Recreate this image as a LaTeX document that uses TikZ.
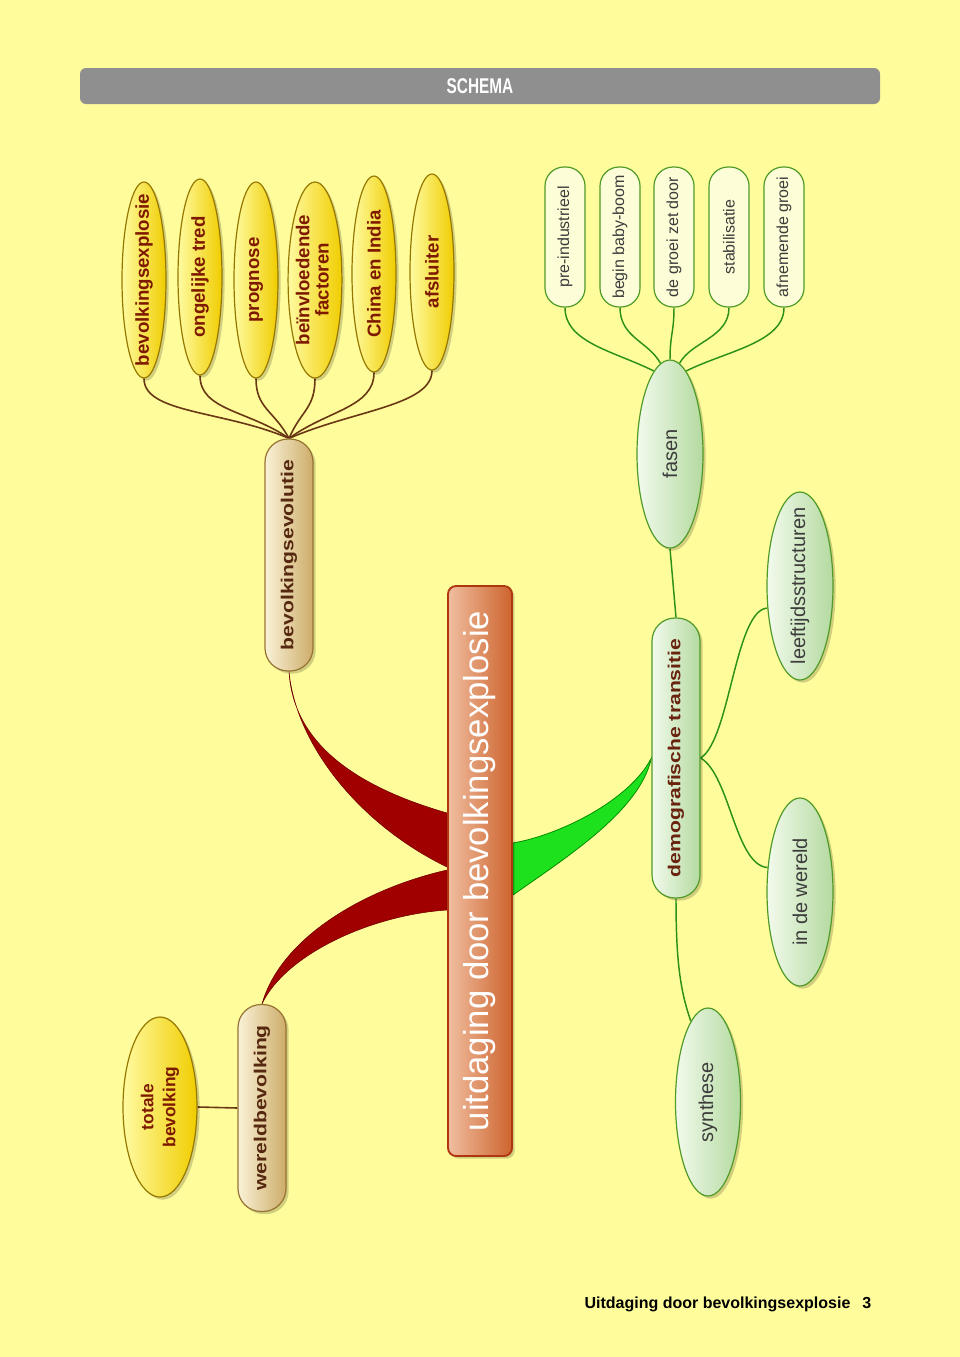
\documentclass[tikz,border=0pt]{standalone}
\usepackage{graphicx}
\usepackage{fontspec}
\setmainfont{Liberation Sans}
\newfontfamily\widefont[FakeStretch=1.22]{Liberation Sans}
\newfontfamily\narrowfont[FakeStretch=0.72]{Liberation Sans}
\usetikzlibrary{shapes.geometric,shadows,calc,backgrounds}

\definecolor{bgyellow}{RGB}{255,253,155}
\definecolor{titlegray}{RGB}{143,143,143}
\definecolor{yfill}{RGB}{255,236,0}
\definecolor{ylight}{RGB}{255,250,160}
\definecolor{ydark}{RGB}{240,205,0}
\definecolor{yline}{RGB}{150,120,0}
\definecolor{ytext}{RGB}{125,25,0}
\definecolor{tanlight}{RGB}{250,242,215}
\definecolor{tandark}{RGB}{205,172,105}
\definecolor{tanline}{RGB}{150,115,50}
\definecolor{tantext}{RGB}{85,40,15}
\definecolor{glight}{RGB}{242,250,236}
\definecolor{gdark}{RGB}{180,218,160}
\definecolor{gline}{RGB}{80,155,40}
\definecolor{gtext}{RGB}{60,60,60}
\definecolor{demotext}{RGB}{105,35,15}
\definecolor{phasefill}{RGB}{253,253,215}
\definecolor{corelight}{RGB}{240,190,160}
\definecolor{coredark}{RGB}{205,100,45}
\definecolor{coreline}{RGB}{175,55,15}
\definecolor{redbranch}{RGB}{160,0,0}
\definecolor{reddark}{RGB}{110,0,0}
\definecolor{greenbranch}{RGB}{30,225,30}
\definecolor{greendark}{RGB}{0,140,0}
\definecolor{brownline}{RGB}{105,55,20}
\definecolor{gconn}{RGB}{45,145,25}

% 1 px of the reference = 0.75pt
\newcommand{\pxu}{*0.75pt}
\newcommand{\vlabel}[1]{\rotatebox{90}{\makebox[0pt]{#1}}}
\newcommand{\twolines}[2]{\begin{tabular}{@{}c@{}}#1\\#2\end{tabular}}

\begin{document}
\begin{tikzpicture}[x=0.75pt, y=-0.75pt,
    shadowed/.style={drop shadow={shadow xshift=2pt, shadow yshift=-2pt,
                     opacity=0.18, fill=black}},
    topic/.style={ellipse, shadowed, draw=yline, line width=0.9pt, inner sep=0pt,
                  left color=ylight, middle color=yfill, right color=ydark,
                  minimum width=44\pxu, minimum height=196\pxu, text=ytext,
                  font=\fontsize{14}{16.8}\selectfont\bfseries},
    tanpill/.style={rectangle, shadowed, rounded corners=23\pxu, draw=tanline,
                    line width=0.9pt, inner sep=0pt, left color=tanlight,
                    right color=tandark, minimum width=48\pxu, text=tantext,
                    font=\widefont\fontsize{13}{15}\selectfont\bfseries},
    greenpill/.style={tanpill, draw=gline, left color=glight, right color=gdark,
                      text=demotext},
    subtopic/.style={ellipse, shadowed, draw=gline, line width=0.9pt, inner sep=0pt,
                     left color=glight, right color=gdark,
                     minimum width=66\pxu, minimum height=188\pxu, text=gtext,
                     font=\fontsize{15}{18}\selectfont},
    phase/.style={rectangle, rounded corners=19\pxu, draw=gline, line width=0.9pt,
                  fill=phasefill, inner sep=0pt, minimum width=40\pxu,
                  minimum height=140\pxu, text=gtext,
                  font=\fontsize{12}{14.4}\selectfont},
    brownconn/.style={draw=brownline, line width=1.2pt},
    greenconn/.style={draw=gconn, line width=1.1pt},
  ]
    \useasboundingbox (0,0) rectangle (960,1357);

    % Title and footer -------------------------------------------------------
    \node[rectangle, rounded corners=6\pxu, fill=titlegray, minimum width=800\pxu,
          minimum height=36\pxu, text=white,
          font=\narrowfont\fontsize{16}{19}\selectfont\bfseries]
          (title) at (480,86) {SCHEMA};
    \node[anchor=base east, font=\fontsize{12}{14}\selectfont\bfseries]
          (footer) at (876,1308) {Uitdaging door bevolkingsexplosie\hspace{9pt}3};

    % Central topic ----------------------------------------------------------
    \node[rectangle, rounded corners=8\pxu, shadowed, draw=coreline, line width=1.4pt,
          left color=corelight, right color=coredark, inner sep=0pt,
          minimum width=64\pxu, minimum height=570\pxu, text=white,
          font=\fontsize{26}{30}\selectfont]
          (core) at (480,871) {\vlabel{uitdaging door bevolkingsexplosie}};

    % Left branch: bevolkingsevolutie ----------------------------------------
    \node[tanpill, minimum height=232\pxu] (evol)   at (289,555) {\vlabel{bevolkingsevolutie}};
    \node[topic] (boom)    at (144,280) {\vlabel{bevolkingsexplosie}};
    \node[topic] (tred)    at (200,277) {\vlabel{ongelijke tred}};
    \node[topic] (prog)    at (256,280) {\vlabel{prognose}};
    \node[topic] (factors) at (315,280)
          {\def\arraystretch{0.82}\vlabel{\twolines{beïnvloedende}{factoren}}};
    \node[topic] (china)   at (374,274) {\vlabel{China en India}};
    \node[topic] (closer)  at (432,272) {\vlabel{afsluiter}};

    % Left branch: wereldbevolking -------------------------------------------
    \node[tanpill, minimum height=207\pxu] (world)  at (262,1108) {\vlabel{wereldbevolking}};
    \node[topic, minimum width=74\pxu, minimum height=180\pxu,
          font=\fontsize{13}{15.6}\selectfont\bfseries]
          (total) at (160,1107) {\def\arraystretch{1.05}\vlabel{\twolines{totale}{bevolking}}};

    % Right branch: demografische transitie ----------------------------------
    \node[greenpill, minimum height=280\pxu] (demo) at (676,758) {\vlabel{demografische transitie}};
    \node[subtopic] (phases)  at (670,454)  {\vlabel{fasen}};
    \node[subtopic] (ages)    at (800,586)  {\vlabel{leeftijdsstructuren}};
    \node[subtopic] (inworld) at (800,892)  {\vlabel{in de wereld}};
    \node[subtopic, minimum width=65\pxu] (synth) at (708,1102) {\vlabel{synthese}};

    \node[phase] (pre)    at (565,237) {\vlabel{pre-industrieel}};
    \node[phase] (baby)   at (620,237) {\vlabel{begin baby-boom}};
    \node[phase] (growth) at (674,237) {\vlabel{de groei zet door}};
    \node[phase] (stable) at (729,237) {\vlabel{stabilisatie}};
    \node[phase] (fall)   at (784,237) {\vlabel{afnemende groei}};

    % Connectors (behind the nodes) ------------------------------------------
    \begin{scope}[on background layer]
      \fill[bgyellow] (0,0) rectangle (960,1357);

      % main branches
      \filldraw[fill=redbranch, draw=reddark, line width=0.4pt]
        (evol.south) .. controls (293,740) and (350,785) .. ($(core.west)+(0,-58)$)
        -- ($(core.west)+(0,-4)$) .. controls (360,825) and (296,745) .. (evol.south) -- cycle;
      \filldraw[fill=redbranch, draw=reddark, line width=0.4pt]
        ($(core.west)+(0,-1)$) .. controls (360,890) and (280,940) .. (world.north)
        .. controls (285,955) and (370,915) .. ($(core.west)+(0,39)$) -- cycle;
      \filldraw[fill=greenbranch, draw=greendark, line width=0.6pt]
        ($(core.east)+(0,-28)$) .. controls (560,835) and (630,800) .. (demo.west)
        .. controls (640,810) and (570,855) .. ($(core.east)+(0,24)$) -- cycle;

      % bevolkingsevolutie
      \draw[brownconn] (boom.south)    .. controls +(0,35) and +(-65,-28) .. (evol.north);
      \draw[brownconn] (tred.south)    .. controls +(0,35) and +(-40,-28) .. (evol.north);
      \draw[brownconn] (prog.south)    .. controls +(0,30) and +(-15,-28) .. (evol.north);
      \draw[brownconn] (factors.south) .. controls +(0,30) and +(12,-28)  .. (evol.north);
      \draw[brownconn] (china.south)   .. controls +(0,35) and +(38,-28)  .. (evol.north);
      \draw[brownconn] (closer.south)  .. controls +(0,35) and +(64,-28)  .. (evol.north);

      % wereldbevolking
      \draw[brownconn] (total.east) -- (world.west);

      % demografische transitie
      \draw[greenconn] (phases.south) -- (demo.north);
      \draw[greenconn] (pre.south)    .. controls +(0,35) and +(-40,-20) .. (phases.101);
      \draw[greenconn] (baby.south)   .. controls +(0,30) and +(-12,-22) .. (phases.96);
      \draw[greenconn] (growth.south) .. controls +(0,25) and +(0,-25)   .. (phases.north);
      \draw[greenconn] (stable.south) .. controls +(0,30) and +(12,-22)  .. (phases.84);
      \draw[greenconn] (fall.south)   .. controls +(0,35) and +(40,-20)  .. (phases.79);
      \draw[greenconn] (demo.east) .. controls (730,740) and (735,610) .. (ages.214);
      \draw[greenconn] (demo.east) .. controls (730,775) and (735,865) .. (inworld.143);
      \draw[greenconn] (demo.south) .. controls (676,960) and (680,990) .. (synth.102);
    \end{scope}
\end{tikzpicture}
\end{document}
